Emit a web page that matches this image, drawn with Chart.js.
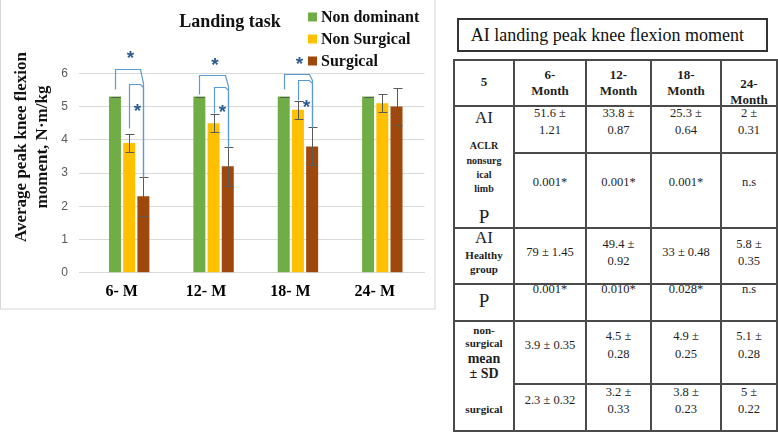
<!DOCTYPE html>
<html><head><meta charset="utf-8">
<script src="https://cdn.jsdelivr.net/npm/chart.js@4.4.1/dist/chart.umd.min.js"></script>
<style>
html,body{margin:0;padding:0;background:#fff;}
#wrap{position:relative;width:778px;height:432px;overflow:hidden;font-family:"Liberation Serif","Times New Roman",serif;color:#1e1e1e;}
#chart{position:absolute;left:0;top:0;}
.ln{position:absolute;background:#4a4a4a;}
.box{position:absolute;display:flex;align-items:center;justify-content:center;text-align:center;}
</style></head><body>
<div id="wrap"><canvas id="chart" width="436" height="310"></canvas><div id="table"></div></div>
<script>
// ---------- chart data ----------
const categories = ['6- M', '12- M', '18- M', '24- M'];
const seriesNames = ['Non dominant', 'Non Surgical', 'Surgical'];
const nonDominant = [5.3, 5.3, 5.3, 5.3];
const nonSurgical = [3.9, 4.5, 4.9, 5.1];
const surgical = [2.3, 3.2, 3.8, 5.0];
const nonDominantErr = [0, 0, 0, 0];
const nonSurgicalErr = [0.27, 0.27, 0.28, 0.27];
const surgicalErr = [0.58, 0.58, 0.57, 0.57];
const yTicks = [0, 1, 2, 3, 4, 5, 6];
const chartTitle = 'Landing task';
const yTitle = ['Average peak knee flexion', 'moment, N\u00b7m/kg'];
const sigMark = '*';

// ---------- table data ----------
const tableTitle = 'AI landing peak knee flexion moment';
const tableCorner = '5';
const months = ['6-Month', '12-Month', '18-Month', '24-Month'];
const aiNonsurgMean = [51.6, 33.8, 25.3, 2];
const aiNonsurgSD = [1.21, 0.87, 0.64, 0.31];
const pNonsurg = ['0.001*', '0.001*', '0.001*', 'n.s'];
const aiHealthyMean = [79, 49.4, 33, 5.8];
const aiHealthySD = [1.45, 0.92, 0.48, 0.35];
const pHealthy = ['0.001*', '0.010*', '0.028*', 'n.s'];
const nonSurgicalSD = [0.35, 0.28, 0.25, 0.28];
const surgicalSD = [0.32, 0.33, 0.23, 0.22];

// ---------- annotation geometry (significance brackets, in axis units) ----------
const sigBrackets = [
  {cat: 0, from: 0, to: 2, top: 6.12, legEnd: 5.52, drop: 5.71, star: 6.61, starAt: 'mid'},
  {cat: 0, from: 1, to: 2, top: 5.68, legEnd: 4.36, drop: 5.60, star: 5.02, starAt: 'right'},
  {cat: 1, from: 0, to: 2, top: 5.94, legEnd: 5.38, drop: 5.62, star: 6.40, starAt: 'mid'},
  {cat: 1, from: 1, to: 2, top: 5.58, legEnd: 4.80, drop: 5.50, star: 4.99, starAt: 'right'},
  {cat: 2, from: 0, to: 2, top: 5.97, legEnd: 5.53, drop: 5.80, star: 6.42, starAt: 'mid'},
  {cat: 2, from: 1, to: 2, top: 5.80, legEnd: 5.20, drop: 5.70, star: 5.15, starAt: 'right'}
];

const SERIF = '"Liberation Serif", "Times New Roman", serif';
const colors = ['#70AD47', '#FFC000', '#9E480E'];
const seriesValues = [nonDominant, nonSurgical, surgical];
const seriesErrs = [nonDominantErr, nonSurgicalErr, surgicalErr];

const overlay = {
  id: 'overlay',
  beforeDraw(chart) {
    const ctx = chart.ctx;
    ctx.save();
    ctx.strokeStyle = '#d6d6d6';
    ctx.lineWidth = 1;
    ctx.strokeRect(0.5, -2, 434.5, 311);
    ctx.restore();
  },
  afterDatasetsDraw(chart) {
    const ctx = chart.ctx, ys = chart.scales.y;
    ctx.save();
    // error bars
    ctx.strokeStyle = '#5a5a5a';
    ctx.lineWidth = 1;
    seriesErrs.forEach((err, i) => {
      const meta = chart.getDatasetMeta(i);
      const vals = seriesValues[i];
      meta.data.forEach((el, j) => {
        const x = Math.round(el.x) + 0.5;
        const t = Math.round(ys.getPixelForValue(vals[j] + err[j])) + 0.5;
        const b = Math.round(ys.getPixelForValue(vals[j] - err[j])) + 0.5;
        ctx.beginPath();
        ctx.moveTo(x, t); ctx.lineTo(x, b);
        ctx.moveTo(x - 4, t); ctx.lineTo(x + 5, t);
        ctx.moveTo(x - 4, b); ctx.lineTo(x + 5, b);
        ctx.stroke();
      });
    });
    // significance brackets
    ctx.strokeStyle = '#5B9BD5';
    ctx.lineWidth = 1.2;
    sigBrackets.forEach(s => {
      const xa = Math.round(chart.getDatasetMeta(s.from).data[s.cat].x) + 0.5;
      const xb = Math.round(chart.getDatasetMeta(s.to).data[s.cat].x) + 0.5;
      const bEnd = seriesValues[s.to][s.cat] + seriesErrs[s.to][s.cat];
      const py = v => Math.round(ys.getPixelForValue(v)) + 0.5;
      ctx.beginPath();
      ctx.moveTo(xa, py(s.legEnd));
      ctx.lineTo(xa, py(s.top));
      ctx.lineTo(xb - 3, py(s.top));
      ctx.lineTo(xb, py(s.drop));
      ctx.lineTo(xb, py(bEnd));
      ctx.stroke();
      const sx = s.starAt === 'mid' ? (xa + xb) / 2 + 1 : xb - 6;
      ctx.fillStyle = '#2B5C91';
      ctx.font = 'bold 19px "Liberation Sans", Arial, sans-serif';
      ctx.textAlign = 'center';
      ctx.textBaseline = 'alphabetic';
      ctx.fillText(sigMark, sx, ys.getPixelForValue(s.star) + 11);
    });
    ctx.restore();
  },
  afterDraw(chart) {
    const ctx = chart.ctx;
    ctx.save();
    // title
    ctx.fillStyle = '#111';
    ctx.font = 'bold 18px ' + SERIF;
    ctx.textAlign = 'center';
    ctx.textBaseline = 'middle';
    ctx.fillText(chartTitle, 230, 22);
    // legend
    const ly = [17, 39, 61];
    ctx.font = 'bold 16px ' + SERIF;
    ctx.textAlign = 'left';
    seriesNames.forEach((n, i) => {
      ctx.fillStyle = colors[i];
      ctx.fillRect(308, ly[i] - 4.5, 9, 9);
      ctx.fillStyle = '#111';
      ctx.fillText(n, 321, ly[i] + 1);
    });
    // y-axis title
    ctx.font = 'bold 17px ' + SERIF;
    ctx.textAlign = 'center';
    ctx.translate(22, 147);
    ctx.rotate(-Math.PI / 2);
    ctx.fillText(yTitle[0], 0, 0);
    ctx.fillText(yTitle[1], 0, 21);
    ctx.restore();
  }
};

new Chart(document.getElementById('chart'), {
  type: 'bar',
  data: {
    labels: categories,
    datasets: seriesNames.map((n, i) => ({
      label: n, data: seriesValues[i], backgroundColor: colors[i],
      categoryPercentage: 0.505, barPercentage: 0.845, borderWidth: 0
    }))
  },
  options: {
    responsive: false, animation: false,
    layout: {padding: {top: 73.3, left: 0, right: 11.5, bottom: 0}},
    plugins: {legend: {display: false}, title: {display: false}, tooltip: {enabled: false}},
    scales: {
      x: {
        grid: {display: false, drawTicks: false},
        border: {display: true, color: '#d9d9d9'},
        ticks: {color: '#000', padding: 10, labelOffset: -7.5, font: {family: SERIF, size: 16, weight: 'bold'}},
        afterFit(s) { s.height = 37.3; }
      },
      y: {
        min: 0, max: 6,
        afterBuildTicks(s) { s.ticks = yTicks.map(v => ({value: v})); },
        grid: {color: '#d9d9d9', drawTicks: true, tickLength: 8, tickColor: '#d9d9d9'},
        border: {display: false},
        ticks: {color: '#595959', padding: 11, font: {family: '"Liberation Sans", Arial, sans-serif', size: 12}},
        afterFit(s) { s.width = 87; }
      }
    }
  },
  plugins: [overlay]
});

// ---------- table ----------
const T = document.getElementById('table');
const colX = [454, 514, 586, 651, 721, 777];
const rowY = [60, 106, 152.7, 228.3, 284, 321, 384, 430.7];
const innerW = [54, 45, 49.5, 36];
function line(x, y, w, h) {
  const d = document.createElement('div');
  d.className = 'ln';
  d.style.cssText = `left:${x}px;top:${y}px;width:${w}px;height:${h}px`;
  T.appendChild(d);
}
function box(html, cx, w, cy, size, bold, lh) {
  const d = document.createElement('div');
  d.className = 'box';
  d.style.cssText = `left:${cx - w / 2}px;width:${w}px;top:${cy - 40}px;height:80px;font-size:${size}px;line-height:${lh}px;font-weight:${bold ? 'bold' : 'normal'}`;
  d.innerHTML = html;
  T.appendChild(d);
}
// title box
const tb = document.createElement('div');
tb.style.cssText = 'position:absolute;left:456.7px;top:18.3px;width:311px;height:34px;box-sizing:border-box;border:2px solid #333;font-size:18px;line-height:30px;padding-left:12px;color:#111;white-space:nowrap';
tb.textContent = tableTitle;
T.appendChild(tb);
// grid lines
const hl = [[0, 0], [1, 0], [2, 1], [3, 0], [4, 0], [5, 0], [6, 1], [7, 0]];
hl.forEach(([r, c]) => line(colX[c] - 1, rowY[r] - 1, colX[5] - colX[c] + 2, 2));
colX.forEach(x => line(x - 1, rowY[0] - 1, 2, rowY[7] - rowY[0] + 2));
// header
const c0 = (colX[0] + colX[1]) / 2;
box(tableCorner, c0, 56, 81.7, 13, true, 15.7);
const headerCY = [83, 83, 83, 91.7];
months.forEach((m, i) => box(m.replace('-', '-<br>'), (colX[i + 1] + colX[i + 2]) / 2, innerW[i], headerCY[i], 13, true, 15.7));
// data rows
const pm = (m, s) => `${m} \u00b1 ${s}`;
const rowCY = [122, 182.7, 253, 290, 345.5, 401];
const rows = [
  aiNonsurgMean.map((m, i) => pm(m, aiNonsurgSD[i])),
  pNonsurg,
  aiHealthyMean.map((m, i) => pm(m, aiHealthySD[i])),
  pHealthy,
  nonSurgical.map((m, i) => pm(m, nonSurgicalSD[i])),
  surgical.map((m, i) => pm(m, surgicalSD[i]))
];
rows.forEach((r, ri) => r.forEach((txt, i) => box(txt, (colX[i + 1] + colX[i + 2]) / 2, innerW[i], rowCY[ri], 12.5, false, 17.4)));
// row labels (first column)
const rowLabels = [
  ['AI', 17, false, 118], ['ACLR', 10, true, 145.7], ['nonsurg', 10, true, 160.7], ['ical', 10, true, 175], ['limb', 10, true, 189], ['P', 19, false, 217],
  ['AI', 17, false, 238.3], ['Healthy', 11, true, 255.7], ['group', 11, true, 270],
  ['P', 19, false, 301.7],
  ['non-', 11, true, 330.7], ['surgical', 11, true, 343.3], ['mean', 14, true, 359], ['\u00b1 SD', 14, true, 374], ['surgical', 11, true, 409.3]
];
rowLabels.forEach(([t, s, b, y]) => box(t, c0, 58, y, s, b, s * 1.2));
</script>
</body></html>
